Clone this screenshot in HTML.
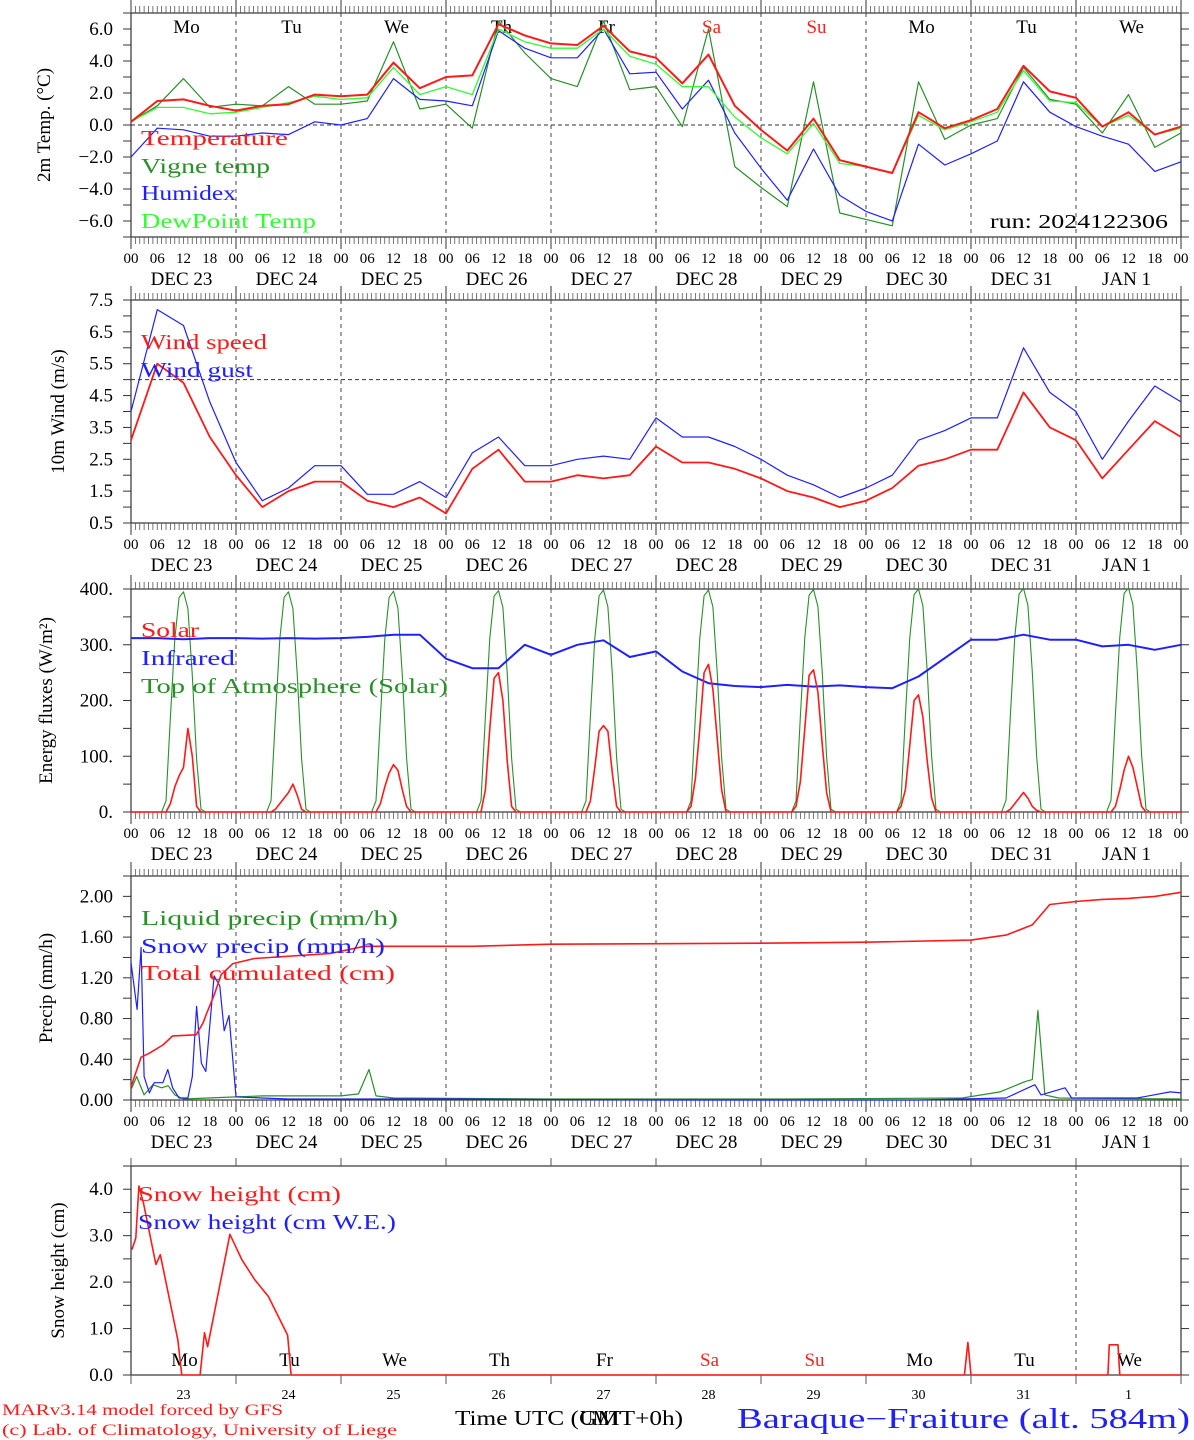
<!DOCTYPE html>
<html><head><meta charset="utf-8"><title>MAR meteogram Baraque-Fraiture</title>
<style>
html,body{margin:0;padding:0;background:#fff;}
svg{display:block;font-family:"Liberation Serif","DejaVu Serif",serif;}
</style></head>
<body>
<svg id="chart" xmlns="http://www.w3.org/2000/svg" width="1194" height="1440" viewBox="0 0 1194 1440"></svg>
<script>
// ---------- DATA (6-hourly unless noted) ----------
const dayNames = ["Mo","Tu","We","Th","Fr","Sa","Su","Mo","Tu","We"];
const dateLabels = ["DEC 23","DEC 24","DEC 25","DEC 26","DEC 27","DEC 28","DEC 29","DEC 30","DEC 31","JAN  1"];
const dayNumbers = ["23","24","25","26","27","28","29","30","31","1"];
const hourLabels = ["00","06","12","18"];

const temperature = [0.2,1.5,1.6,1.2, 0.9,1.2,1.3,1.9, 1.8,1.9,3.9,2.3, 3.0,3.1,6.3,5.6, 5.1,5.0,6.2,4.6, 4.2,2.6,4.4,1.2, -0.3,-1.6,0.4,-2.2, -2.6,-3.0,0.8,-0.2, 0.3,1.0,3.7,2.1, 1.7,-0.1,0.8,-0.6, -0.1];
const vigneTemp = [0.2,1.2,2.9,1.1, 1.3,1.2,2.4,1.3, 1.3,1.5,5.2,1.0, 1.3,-0.2,6.5,4.5, 2.9,2.4,6.5,2.2, 2.4,-0.1,6.0,-2.6, -3.9,-5.1,2.7,-5.5, -5.9,-6.3,2.7,-0.9, 0.0,0.4,3.6,1.6, 1.3,-0.5,1.9,-1.4, -0.5];
const humidex = [-2.0,-0.2,-0.3,-0.7, -0.7,-0.5,-0.6,0.2, 0.0,0.4,2.9,1.6, 1.5,1.2,5.9,4.8, 4.2,4.2,6.0,3.2, 3.3,1.0,2.8,-0.5, -2.7,-4.7,-1.5,-4.4, -5.4,-6.0,-1.2,-2.5, -1.8,-1.0,2.7,0.8, -0.1,-0.7,-1.2,-2.9, -2.3];
const dewPoint = [0.2,1.1,1.1,0.7, 0.8,1.1,1.4,1.8, 1.6,1.7,3.6,1.9, 2.4,1.9,6.0,5.2, 4.8,4.8,6.0,4.3, 3.8,2.4,2.4,0.5, -0.8,-1.8,0.1,-2.4, -2.6,-3.0,0.6,-0.3, 0.2,0.8,3.4,1.5, 1.4,-0.1,0.6,-0.6, -0.2];

const windSpeed = [3.1,5.5,4.9,3.2, 2.0,1.0,1.5,1.8, 1.8,1.2,1.0,1.3, 0.8,2.2,2.8,1.8, 1.8,2.0,1.9,2.0, 2.9,2.4,2.4,2.2, 1.9,1.5,1.3,1.0, 1.2,1.6,2.3,2.5, 2.8,2.8,4.6,3.5, 3.1,1.9,2.8,3.7, 3.2];
const windGust = [4.0,7.2,6.7,4.3, 2.4,1.2,1.6,2.3, 2.3,1.4,1.4,1.8, 1.3,2.7,3.2,2.3, 2.3,2.5,2.6,2.5, 3.8,3.2,3.2,2.9, 2.5,2.0,1.7,1.3, 1.6,2.0,3.1,3.4, 3.8,3.8,6.0,4.6, 4.0,2.5,3.7,4.8, 4.3];

const infrared = [312,312,310,312, 312,311,312,311, 312,314,318,318, 275,258,258,300, 282,300,308,278, 288,252,231,226, 224,228,225,227, 224,222,243,276, 309,309,318,309, 309,297,300,291, 300];
// hourly daytime values, hours 7..17 for TOA, per day
const toaHours = [7,8,9,10,11,12,13,14,15,16,17];
const toaByDay = [
 [0,20,170,310,385,395,365,245,95,5,0],
 [0,20,170,310,385,395,365,245,95,5,0],
 [0,20,170,310,385,396,366,246,96,5,0],
 [0,20,172,312,387,397,367,247,97,5,0],
 [0,20,172,312,388,398,368,248,98,5,0],
 [0,20,172,312,388,398,368,248,98,5,0],
 [0,20,173,313,389,399,369,249,99,5,0],
 [0,20,173,313,390,400,370,250,100,5,0],
 [0,21,174,314,391,401,371,251,101,5,0],
 [0,21,174,314,392,402,372,252,102,5,0]];
// hourly solar, hours 7..17 per day
const solarHours = [7,8,9,10,11,12,13,14,15,16,17];
const solarByDay = [
 [0,0,15,45,65,80,150,100,10,0,0],
 [0,0,5,15,25,35,50,30,5,0,0],
 [0,0,15,45,70,85,75,40,10,0,0],
 [0,0,40,150,240,250,200,90,10,0,0],
 [0,0,20,80,145,155,145,70,10,0,0],
 [0,10,60,150,250,265,220,130,40,0,0],
 [0,10,55,150,245,255,215,120,35,0,0],
 [0,10,40,120,200,210,170,90,25,0,0],
 [0,0,5,15,25,35,25,10,3,0,0],
 [0,0,10,40,75,100,80,45,10,0,0]];

// precip: (hour, value) pairs
const snowT = [0,1.4,2.3,3,4.2,5.3,7.3,8.4,9.5,11,13,14,15,16.1,17.1,19,20.3,21.3,22.4,24,30,36,48,72,120,180,200,206.6,208,213.5,215,230,237.5,240];
const snowV = [1.35,0.89,1.5,0.23,0.07,0.17,0.17,0.3,0.12,0.02,0.02,0.23,0.92,0.36,0.28,1.22,1.12,0.68,0.83,0.03,0.02,0.01,0.01,0.01,0.0,0.0,0.02,0.15,0.05,0.12,0.02,0.02,0.08,0.07];
const liqT = [0,1.3,3,5,7,8.5,10,12,24,30,48,52,54.4,56,60,96,150,190,198.6,204.3,206,207.3,208.9,212,240];
const liqV = [0.1,0.23,0.05,0.15,0.12,0.14,0.05,0.01,0.03,0.04,0.04,0.06,0.3,0.04,0.02,0.01,0.01,0.02,0.08,0.18,0.2,0.88,0.05,0.02,0.01];
const cumT = [0,2.3,4.2,7.3,9.5,14.9,16.5,17.1,19,20.6,23.3,28.2,45.7,53.3,78,96,144,168,192,200,206,210,216,222,228,234,240];
const cumV = [0.13,0.42,0.46,0.54,0.63,0.64,0.76,0.83,1.03,1.23,1.34,1.39,1.44,1.51,1.51,1.53,1.54,1.55,1.57,1.62,1.72,1.92,1.95,1.97,1.98,2.0,2.04];

// snow height (hour, cm)
const snowHT = [0.2,1.1,1.8,2.9,5.7,6.7,10.7,11.6,15.8,16.8,17.5,22.6,25.3,28.3,31.4,35.8,36.6,190.5,191.3,192,223.3,223.6,225.6,226,240];
const snowHV = [2.7,2.95,4.07,3.68,2.38,2.59,0.76,0,0,0.91,0.61,3.03,2.49,2.05,1.69,0.86,0,0,0.7,0,0,0.65,0.65,0,0];

// ---------- LAYOUT ----------
const NS = "http://www.w3.org/2000/svg";
const svg = document.getElementById("chart");
const X0 = 131, X1 = 1181, HRS = 240;
function xs(t){ return X0 + (X1 - X0) * t / HRS; }
const panels = [
 {key:"temp", top:13, bot:237, min:-7, max:7, tick:1, lab0:-6, labStep:2, dec:1, suffix:"", title:"2m Temp. (\u00B0C)", titleX:44},
 {key:"wind", top:300, bot:523, min:0.5, max:7.5, tick:0.5, lab0:0.5, labStep:1, dec:1, suffix:"", title:"10m Wind (m/s)", titleX:58},
 {key:"energy", top:589, bot:812, min:0, max:400, tick:50, lab0:0, labStep:100, dec:0, suffix:".", title:"Energy fluxes (W/m\u00B2)", titleX:46},
 {key:"precip", top:876, bot:1100, min:0, max:2.2, tick:0.2, lab0:0, labStep:0.4, dec:2, suffix:"", title:"Precip (mm/h)", titleX:46},
 {key:"snow", top:1166, bot:1375, min:0, max:4.5, tick:0.5, lab0:0, labStep:1, dec:1, suffix:"", title:"Snow height (cm)", titleX:58}
];
function ys(p, v){ return p.bot - (v - p.min) / (p.max - p.min) * (p.bot - p.top); }

function el(tag, attrs, parent){
  const e = document.createElementNS(NS, tag);
  for (const k in attrs) e.setAttribute(k, attrs[k]);
  (parent || svg).appendChild(e);
  return e;
}
function txt(s, x, y, size, color, anchor, parent){
  const t = el("text", {x:x, y:y, "font-size":size, fill:color||"#000", "text-anchor":anchor||"start"}, parent);
  t.textContent = s;
  return t;
}
function fmt(v, dec){ const s = Math.abs(v).toFixed(dec); return (v < -1e-9 ? "\u2212" : "") + s; }

// ---------- AXES ----------
panels.forEach((p, pi) => {
  const g = el("g", {});
  
  
  const fr = el("rect", {x:X0, y:p.top, width:X1-X0, height:p.bot-p.top, fill:"none", stroke:"#333", "stroke-width":1.2}, g);
  
  
  for (let d = 1; d < 10; d++){
    if (p.key === "snow" && d !== 9) continue;
    const l = el("line", {x1:xs(d*24), x2:xs(d*24), y1:p.top, y2:p.bot, stroke:"#444", "stroke-width":1, "stroke-dasharray":"4,4"}, g);
    
    
  }
  const nT = Math.round((p.max - p.min) / p.tick);
  for (let i = 0; i <= nT; i++){
    const v = p.min + i * p.tick, y = ys(p, v);
    el("line", {x1:X0-8, x2:X0, y1:y, y2:y, stroke:"#333", "stroke-width":1}, g);
    el("line", {x1:X1, x2:X1+8, y1:y, y2:y, stroke:"#333", "stroke-width":1}, g);
  }
  for (let v = p.lab0; v <= p.max + 1e-6; v += p.labStep){
    const t = txt(fmt(v, p.dec) + p.suffix, 113, ys(p, v) + 6, 19, "#000", "end", g);
    
    
  }
  const tt = el("text", {x:0, y:0, "font-size":19, fill:"#000", "text-anchor":"middle", transform:"translate(" + (p.titleX+6) + "," + ((p.top+p.bot)/2) + ") rotate(-90)"}, g);
  tt.textContent = p.title;
  
  

  if (p.key !== "snow"){
    for (let h = 0; h <= HRS; h++){
      const x = xs(h), major = h % 24 === 0;
      el("line", {x1:x, x2:x, y1:p.top - (major ? 14 : 7), y2:p.top, stroke:"#555", "stroke-width":major?1.2:0.8}, g);
      el("line", {x1:x, x2:x, y1:p.bot, y2:p.bot + (major ? 12 : 7), stroke:"#555", "stroke-width":major?1.2:0.8}, g);
    }
    for (let d = 0; d < 10; d++){
      hourLabels.forEach((hl, k) => {
        const t = txt(hl, xs(d*24 + k*6), p.bot + 26, 15, "#000", "middle", g);
        
        
      });
      const dl = txt(dateLabels[d], xs(d*24 + 12) - 2, p.bot + 48, 19, "#000", "middle", g);
      
      
    }
    const last = txt("00", xs(240), p.bot + 26, 15, "#000", "middle", g);
    
    
  } else {
    for (let d = 0; d <= 10; d++){
      el("line", {x1:xs(d*24), x2:xs(d*24), y1:p.top-8, y2:p.top, stroke:"#555", "stroke-width":1}, g);
      el("line", {x1:xs(d*24), x2:xs(d*24), y1:p.bot, y2:p.bot+9, stroke:"#555", "stroke-width":1}, g);
    }
    for (let d = 0; d < 10; d++){
      const dn = txt(dayNumbers[d], xs(d*24+12), 1399, 14, "#000", "middle", g);
      
      
      const wd = txt(dayNames[d], xs(d*24+12)+1, 1366, 19, (d===5||d===6)?"#ff2020":"#000", "middle", g);
      
      
    }
  }
});

const hz = [[0, 0], [1, 5.0]];
hz.forEach(([pi, v]) => {
  const p = panels[pi];
  const l = el("line", {x1:X0, x2:X1, y1:ys(p, v), y2:ys(p, v), stroke:"#333", "stroke-width":1, "stroke-dasharray":"4,3"});
  
  
});

for (let d = 0; d < 10; d++){
  const t = txt(dayNames[d], xs(d*24+12)+3, 33, 19, (d===5||d===6)?"#ff2020":"#000", "middle");
  
  
}

// ---------- SERIES ----------
function line(ts, vs, p, color, w, name){
  const pts = ts.map((t, i) => xs(t).toFixed(1) + "," + ys(p, vs[i]).toFixed(1)).join(" ");
  const pl = el("polyline", {points:pts, fill:"none", stroke:color, "stroke-width":w, "stroke-linejoin":"round"});
  
  
  return pl;
}
const t6 = temperature.map((_, i) => i * 6);
const P = panels;
line(t6, vigneTemp, P[0], "#2a8f2a", 1.2, "vigne-temp-line");
line(t6, humidex, P[0], "#2020ff", 1.2, "humidex-line");
line(t6, dewPoint, P[0], "#30ff30", 1.3, "dewpoint-line");
line(t6, temperature, P[0], "#ff1a1a", 2, "temperature-line");

line(t6, windGust, P[1], "#2020ff", 1.2, "wind-gust-line");
line(t6, windSpeed, P[1], "#ff1a1a", 1.8, "wind-speed-line");

const toaT = [], toaV = [], solT = [], solV = [];
toaT.push(0); toaV.push(0);
solT.push(0); solV.push(0);
for (let d = 0; d < 10; d++){
  toaHours.forEach((h, j) => { toaT.push(d*24 + h); toaV.push(toaByDay[d][j]); });
  solarHours.forEach((h, j) => { solT.push(d*24 + h); solV.push(solarByDay[d][j]); });
}
toaT.push(240); toaV.push(0);
solT.push(240); solV.push(0);
line(toaT, toaV, P[2], "#2a8f2a", 1.1, "toa-solar-line");
line(t6, infrared, P[2], "#2020ff", 2, "infrared-line");
line(solT, solV, P[2], "#ff1a1a", 1.6, "solar-line");

line(liqT, liqV, P[3], "#2a8f2a", 1.2, "liquid-precip-line");
line(snowT, snowV, P[3], "#2020ff", 1.2, "snow-precip-line");
line(cumT, cumV, P[3], "#ff1a1a", 1.6, "cumulated-precip-line");

line(snowHT, snowHV, P[4], "#ff1a1a", 1.6, "snow-height-line");

// ---------- LEGENDS ----------
function legend(s, x, y, color, w, name){
  const t = el("text", {x:x, y:y, "font-size":21, fill:color, textLength:w, lengthAdjust:"spacingAndGlyphs"});
  t.textContent = s;
  
  
}
legend("Temperature", 141, 145, "#ff1a1a", 147, "legend-temperature");
legend("Vigne temp", 141, 173, "#2a8f2a", 129, "legend-vigne-temp");
legend("Humidex", 141, 200, "#2020ff", 95, "legend-humidex");
legend("DewPoint Temp", 141, 228, "#30ff30", 175, "legend-dewpoint");
legend("Wind speed", 141, 349, "#ff1a1a", 126, "legend-wind-speed");
legend("Wind gust", 141, 377, "#2020ff", 112, "legend-wind-gust");
legend("Solar", 141, 637, "#ff1a1a", 58, "legend-solar");
legend("Infrared", 141, 665, "#2020ff", 94, "legend-infrared");
legend("Top of Atmosphere (Solar)", 141, 693, "#2a8f2a", 307, "legend-toa");
legend("Liquid precip (mm/h)", 141, 925, "#2a8f2a", 257, "legend-liquid-precip");
legend("Snow precip (mm/h)", 141, 953, "#2020ff", 244, "legend-snow-precip");
legend("Total cumulated (cm)", 141, 980, "#ff1a1a", 254, "legend-cumulated");
legend("Snow height (cm)", 138, 1201, "#ff1a1a", 203, "legend-snow-height");
legend("Snow height (cm W.E.)", 138, 1229, "#2020ff", 258, "legend-snow-we");

const run = el("text", {x:990, y:228, "font-size":20, fill:"#000", textLength:178, lengthAdjust:"spacingAndGlyphs"});
run.textContent = "run: 2024122306";



// ---------- FOOTER ----------
const f1 = el("text", {x:2, y:1415, "font-size":16, fill:"#ff1a1a", textLength:281, lengthAdjust:"spacingAndGlyphs"});
f1.textContent = "MARv3.14 model forced by GFS";


const f2 = el("text", {x:2, y:1435, "font-size":16, fill:"#ff1a1a", textLength:395, lengthAdjust:"spacingAndGlyphs"});
f2.textContent = "(c) Lab. of Climatology, University of Liege";


const xt = el("text", {x:455, y:1425, "font-size":21, fill:"#000", textLength:228, lengthAdjust:"spacingAndGlyphs"});
xt.textContent = "Time UTC (GMT+0h)";


const xt2 = el("text", {x:580, y:1425, "font-size":21, fill:"#000", textLength:40, lengthAdjust:"spacingAndGlyphs"});
xt2.textContent = "UMT";


const st = el("text", {x:737, y:1428, "font-size":28, fill:"#2020ff", textLength:453, lengthAdjust:"spacingAndGlyphs"});
st.textContent = "Baraque\u2212Fraiture (alt. 584m)";


</script>
</body></html>
